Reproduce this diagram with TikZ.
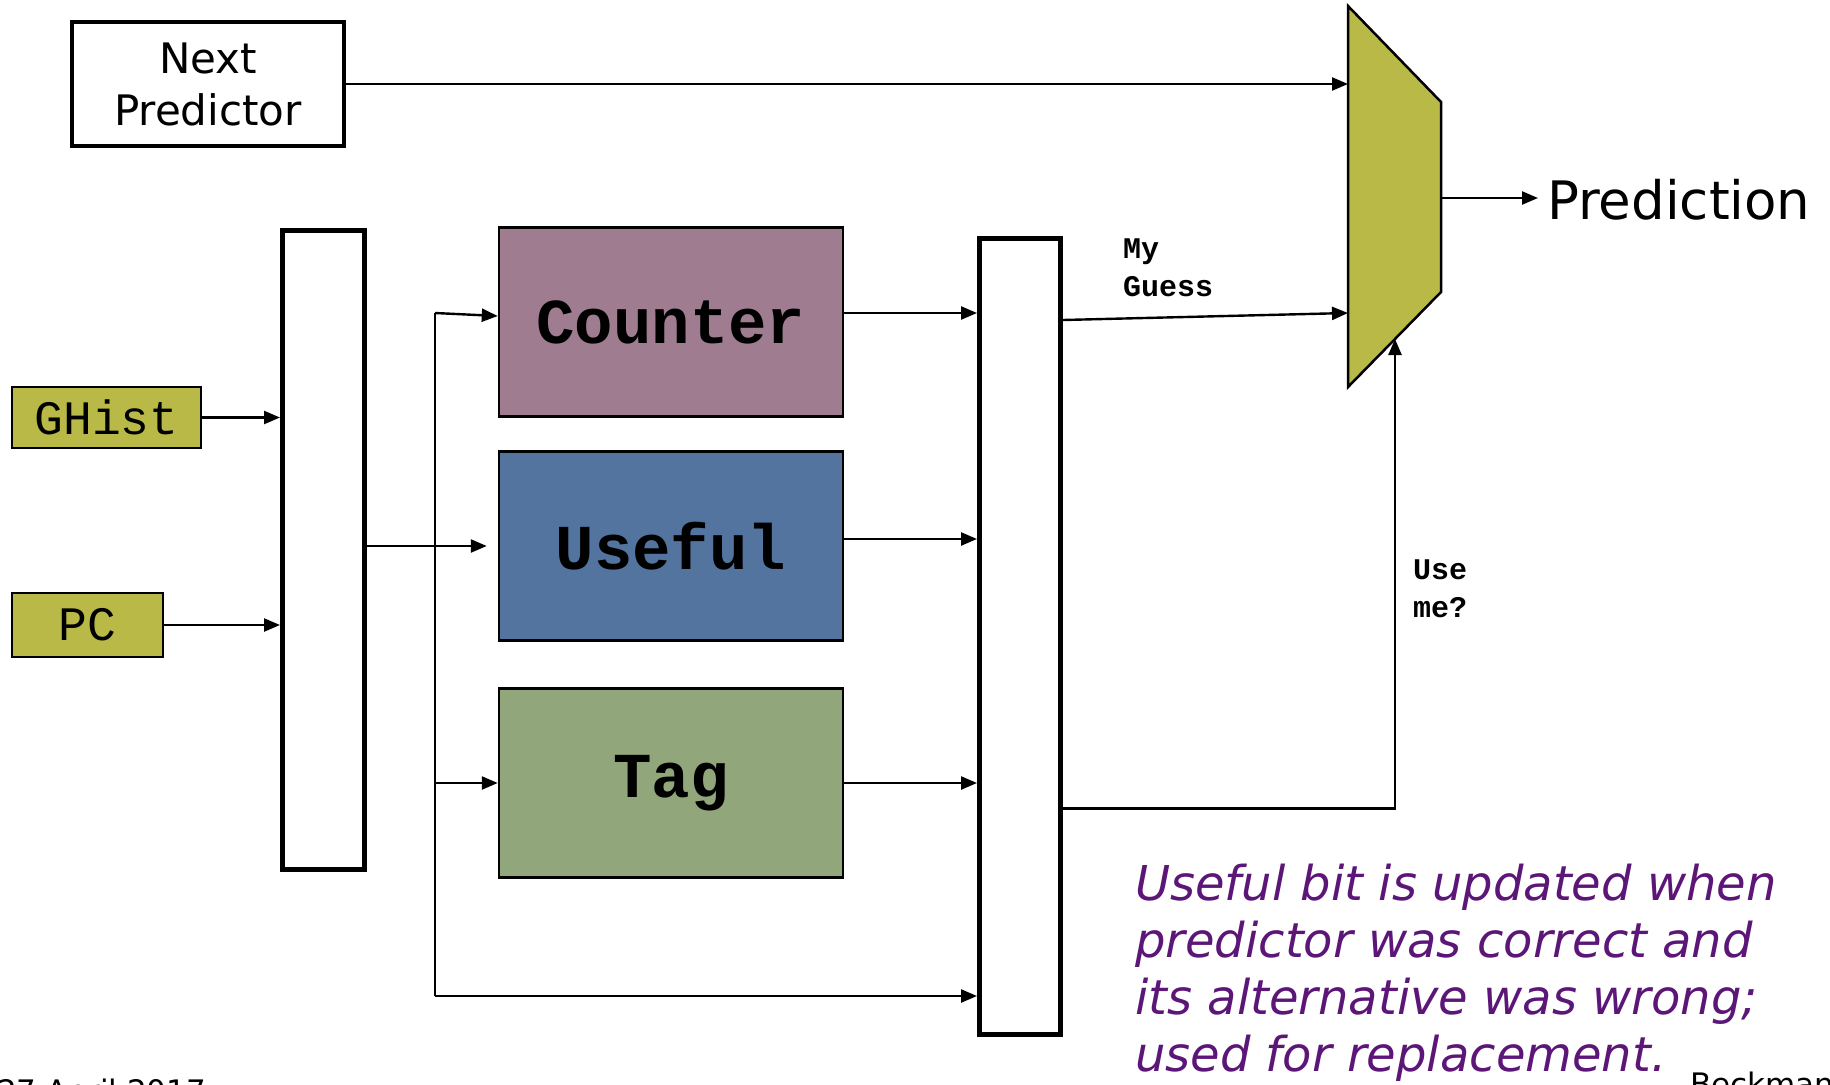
\documentclass[tikz,border=0pt]{standalone}
\usepackage{fontspec}
\setmainfont{DejaVu Sans}
\newfontfamily\monofnt{Liberation Mono}
\usepackage{xcolor}
\usetikzlibrary{arrows.meta}

\definecolor{olivebox}{RGB}{184,185,70}
\definecolor{countercol}{RGB}{160,124,144}
\definecolor{usefulcol}{RGB}{82,116,158}
\definecolor{tagcol}{RGB}{146,166,124}
\definecolor{notecol}{RGB}{92,22,120}

\begin{document}
\begin{tikzpicture}[x=1pt, y=-1pt,
    wire/.style={line width=2.4pt, -{Triangle[length=16pt,width=13pt]}},
    plain/.style={line width=2.4pt},
    regbox/.style={draw, line width=5pt, fill=white},
    tablebox/.style={draw, line width=2.5pt, minimum width=344pt, minimum height=189pt, inner sep=0pt, font=\monofnt\bfseries\fontsize{64}{64}\selectfont},
    inbox/.style={draw, line width=2.5pt, fill=olivebox, inner sep=0pt, font=\monofnt\fontsize{48}{48}\selectfont},
    lbl/.style={anchor=base west, inner sep=0pt, font=\monofnt\bfseries\fontsize{30}{30}\selectfont}]
    \useasboundingbox (0,0) rectangle (1830,1084);

    % Next Predictor
    \node[draw, line width=4pt, minimum width=272pt, minimum height=124pt, align=center, font=\fontsize{42}{52}\selectfont] (next) at (208,84) {Next\\Predictor};

    % registri
    \node[regbox, minimum width=82pt, minimum height=639pt] (reg1) at (323.5,550) {};
    \node[regbox, minimum width=81pt, minimum height=796pt] (reg2) at (1020,636.5) {};

    % ingressi
    \node[inbox, minimum width=189pt, minimum height=61pt] (ghist) at (106.5,417.5) {GHist};
    \node[inbox, minimum width=151pt, minimum height=64pt] (pc) at (87.5,625) {PC};

    % tabelle
    \node[tablebox, fill=countercol] (counter) at (671,322) {Counter};
    \node[tablebox, fill=usefulcol] (useful) at (671,546) {Useful};
    \node[tablebox, fill=tagcol] (tag) at (671,783) {Tag};

    % multiplexer
    \draw[line width=2.5pt, fill=olivebox] (1348,6) coordinate (mux-tl) -- (1441,102) coordinate (mux-tr)
        -- (1441,292) coordinate (mux-br) -- (1348,387) coordinate (mux-bl) -- cycle;
    \coordinate (mux-out) at (1441,198);
    \coordinate (mux-g) at (1348,313);
    \coordinate (mux-sel) at (1395,339);

    % uscita
    \node[anchor=base west, inner sep=9pt, font=\fontsize{53}{53}\selectfont] (pred) at (1538,219) {Prediction};
    \draw[wire] (mux-out) -- (pred.west |- mux-out);

    % frecce di ingresso
    \draw[wire] (next.east) -- (next.east -| mux-tl);
    \draw[wire] (ghist.east) -- (ghist.east -| reg1.west);
    \draw[wire] (pc.east) -- (pc.east -| reg1.west);
    \draw[wire, shorten >=11pt] (reg1.east |- useful.west) -- (useful.west);

    % bus verticale
    \coordinate (bus-top) at (435,313);
    \coordinate (bus-bot) at (435,996);
    \draw[plain] (bus-top) -- (bus-bot);
    \draw[wire] (bus-top) -- ([yshift=6pt]counter.west);
    \draw[wire] (bus-top |- tag.west) -- (tag.west);
    \draw[wire] (bus-bot) -- (bus-bot -| reg2.west);

    % uscite delle tabelle
    \draw[wire] ([yshift=9pt]counter.east) -- ([yshift=9pt]counter.east -| reg2.west);
    \draw[wire] ([yshift=7pt]useful.east) -- ([yshift=7pt]useful.east -| reg2.west);
    \draw[wire] (tag.east) -- (tag.east -| reg2.west);

    % My Guess
    \draw[wire] ([yshift=-84pt]reg2.north east) -- (mux-g);
    \node[lbl] (my) at (1123,258) {My};
    \node[lbl] (guess) at (1123,296) {Guess};

    % Use me?
    \draw[wire] ([yshift=-172pt]reg2.east) -| (mux-sel);
    \node[lbl] (use) at (1413,579) {Use};
    \node[lbl] (me) at (1413,617) {me?};

    % nota
    \node[anchor=north west, inner sep=0pt, align=left, text=notecol, font=\itshape\fontsize{48}{57}\selectfont] (note) at (1135,864)
        {Useful bit is updated when\\predictor was correct and\\its alternative was wrong;\\used for replacement.};

    % pie' di pagina
    \node[anchor=base west, inner sep=0pt, font=\fontsize{31}{31}\selectfont] (date) at (-3,1102) {27 April 2017};
    \node[anchor=base west, inner sep=0pt, font=\fontsize{31}{31}\selectfont] (author) at (1690,1095) {Beckman};
\end{tikzpicture}
\end{document}
